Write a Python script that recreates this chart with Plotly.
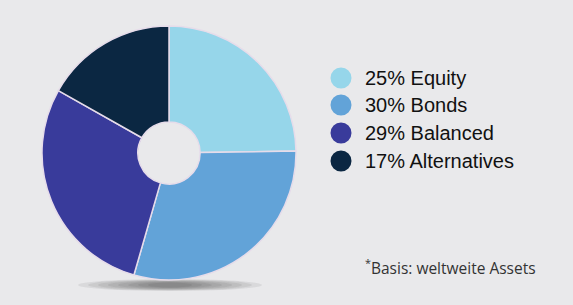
import plotly.graph_objects as go

labels = ["Equity", "Bonds", "Balanced", "Alternatives"]
values = [25, 30, 29, 17]
colors = ["#96d6ea", "#62a3d8", "#393b9b", "#0b2742"]
footnote = "Basis: weltweite Assets"

W, H = 573, 305
bg = "#e9e9eb"

fig = go.Figure()
fig.add_trace(go.Pie(
    labels=labels, values=values, sort=False, direction="clockwise", rotation=0,
    hole=0.245, textinfo="none", hoverinfo="label+percent",
    marker=dict(colors=colors, line=dict(color="#e6dcea", width=1.5)),
    domain=dict(x=[42 / W, 296 / W], y=[(H - 280) / H, (H - 26) / H]),
    showlegend=False,
))

shapes = []
# soft shadow under the pie
cx, cy = 170, 285
for i in range(8):
    rx = 92 - i * 10
    ry = 6 - i * 0.5
    shapes.append(dict(type="circle", xref="paper", yref="paper",
                       x0=(cx - rx) / W, x1=(cx + rx) / W,
                       y0=(H - cy - ry) / H, y1=(H - cy + ry) / H,
                       fillcolor="#2a2a2a", opacity=0.08, line=dict(width=0), layer="below"))

annotations = []
row_y = [78, 105, 133, 161]
for lab, val, col, yy in zip(labels, values, colors, row_y):
    r = 10.5
    shapes.append(dict(type="circle", xref="paper", yref="paper",
                       x0=(341 - r) / W, x1=(341 + r) / W,
                       y0=(H - yy - r) / H, y1=(H - yy + r) / H,
                       fillcolor=col, line=dict(width=0)))
    annotations.append(dict(x=363 / W, y=(H - yy) / H, xref="paper", yref="paper",
                            xanchor="left", yanchor="middle", showarrow=False,
                            text=f"{val}% {lab}",
                            font=dict(family="Liberation Sans, Arial", size=20, color="#111111")))

annotations.append(dict(x=363 / W, y=(H - 267) / H, xref="paper", yref="paper",
                        xanchor="left", yanchor="middle", showarrow=False,
                        text="<sup>*</sup>" + footnote,
                        font=dict(family="Open Sans", size=15.5, color="#333333")))

fig.update_layout(
    width=W, height=H, margin=dict(l=0, r=0, t=0, b=0),
    paper_bgcolor=bg, plot_bgcolor=bg,
    shapes=shapes, annotations=annotations,
)

fig.write_html("out.html", config={"displayModeBar": False},
               post_script="document.body.style.margin='0';document.body.style.background='%s';" % bg)
